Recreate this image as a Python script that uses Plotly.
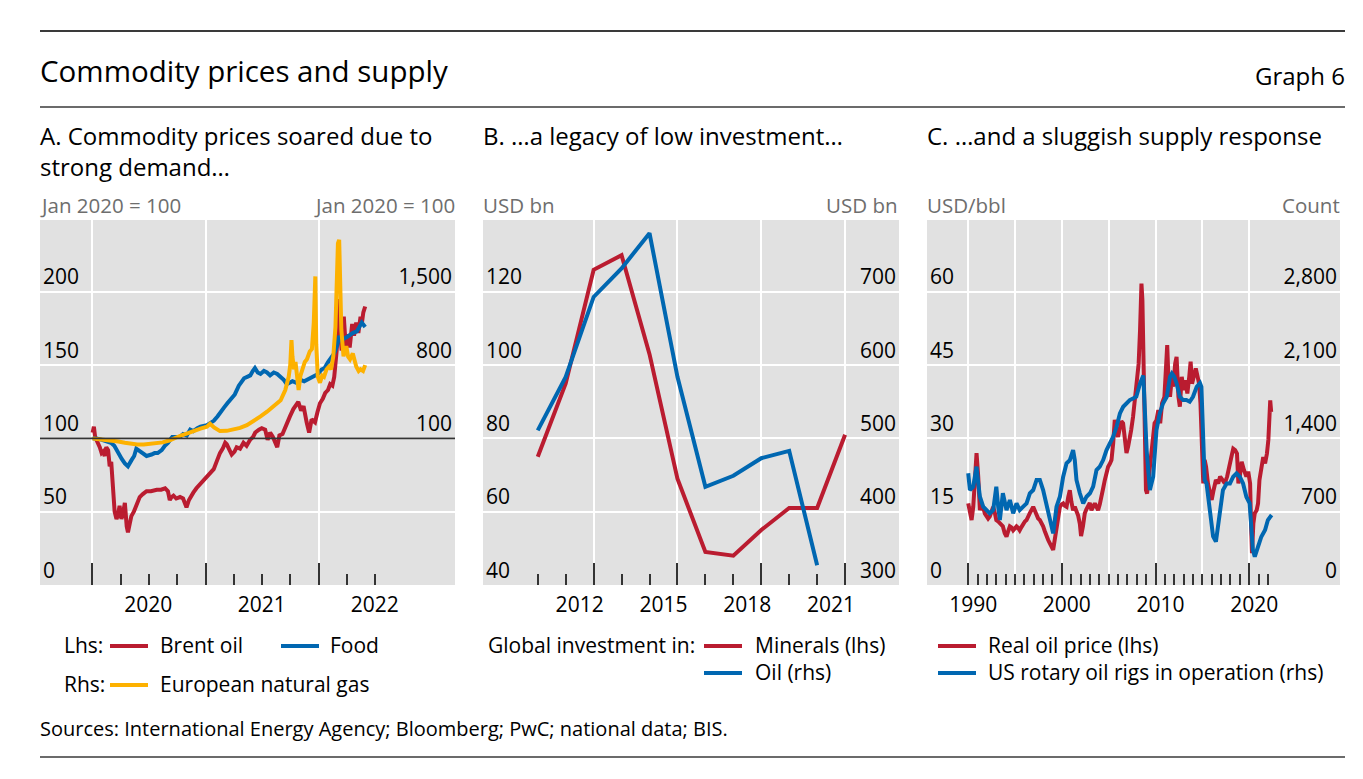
import plotly.graph_objects as go

# ---------------- DATA ----------------
# Panel A: index, Jan 2020 = 100 (Brent, Food on lhs; European gas on rhs)
brent_pts = [
    ("2020-01-02", 104), ("2020-01-06", 108), ("2020-01-10", 101), ("2020-01-20", 97), ("2020-01-25", 94),
    ("2020-01-31", 90), ("2020-02-05", 91), ("2020-02-10", 88), ("2020-02-15", 94), ("2020-02-21", 92),
    ("2020-02-26", 81), ("2020-03-02", 84), ("2020-03-08", 58), ("2020-03-13", 50), ("2020-03-19", 45),
    ("2020-03-24", 48), ("2020-03-29", 54), ("2020-04-04", 45), ("2020-04-10", 50), ("2020-04-15", 56),
    ("2020-04-21", 40), ("2020-04-25", 36), ("2020-05-01", 42), ("2020-05-06", 47), ("2020-05-14", 50),
    ("2020-05-22", 54), ("2020-06-02", 60), ("2020-06-12", 62), ("2020-06-24", 64), ("2020-07-08", 64),
    ("2020-07-27", 65), ("2020-08-10", 65), ("2020-08-23", 66), ("2020-09-01", 64), ("2020-09-07", 58),
    ("2020-09-13", 60), ("2020-09-19", 61), ("2020-09-28", 59), ("2020-10-10", 60), ("2020-10-20", 59),
    ("2020-10-31", 53), ("2020-11-08", 58), ("2020-11-15", 61), ("2020-11-22", 63), ("2020-12-02", 66),
    ("2020-12-14", 69), ("2020-12-24", 71), ("2021-01-05", 74), ("2021-01-15", 77), ("2021-01-27", 79),
    ("2021-02-05", 84), ("2021-02-16", 90), ("2021-02-25", 93), ("2021-03-05", 97), ("2021-03-10", 96),
    ("2021-03-18", 92), ("2021-03-26", 89), ("2021-04-04", 91), ("2021-04-11", 94), ("2021-04-22", 93),
    ("2021-05-03", 97), ("2021-05-13", 95), ("2021-05-24", 99), ("2021-06-03", 101), ("2021-06-10", 104),
    ("2021-06-22", 106), ("2021-07-01", 107), ("2021-07-12", 106), ("2021-07-20", 99), ("2021-07-28", 104),
    ("2021-08-06", 101), ("2021-08-20", 94), ("2021-08-27", 102), ("2021-09-06", 103), ("2021-09-20", 111),
    ("2021-09-30", 115), ("2021-10-11", 120), ("2021-10-20", 123), ("2021-10-27", 125), ("2021-11-05", 119),
    ("2021-11-13", 122), ("2021-11-23", 111), ("2021-12-01", 104), ("2021-12-09", 113), ("2021-12-20", 111),
    ("2021-12-28", 118), ("2022-01-05", 124), ("2022-01-14", 127), ("2022-01-22", 131), ("2022-01-31", 133),
    ("2022-02-07", 137), ("2022-02-14", 136), ("2022-02-20", 142), ("2022-02-28", 160), ("2022-03-03", 175),
    ("2022-03-08", 195), ("2022-03-11", 172), ("2022-03-16", 160), ("2022-03-23", 183), ("2022-03-29", 163),
    ("2022-04-05", 171), ("2022-04-11", 162), ("2022-04-19", 178), ("2022-04-25", 170), ("2022-05-02", 179),
    ("2022-05-09", 172), ("2022-05-16", 183), ("2022-05-20", 178), ("2022-05-25", 186), ("2022-05-31", 190),
]
food_pts = [
    ("2020-01-02", 100), ("2020-01-15", 100), ("2020-02-01", 99), ("2020-02-15", 98), ("2020-03-01", 97),
    ("2020-03-12", 95), ("2020-03-22", 91), ("2020-04-05", 86), ("2020-04-15", 83), ("2020-04-25", 81),
    ("2020-05-06", 85), ("2020-05-15", 88), ("2020-05-22", 93), ("2020-06-05", 91), ("2020-06-15", 89),
    ("2020-06-24", 88), ("2020-07-10", 89), ("2020-07-20", 90), ("2020-07-30", 90), ("2020-08-12", 92),
    ("2020-08-22", 95), ("2020-09-01", 97), ("2020-09-15", 101), ("2020-09-28", 101), ("2020-10-10", 101),
    ("2020-10-20", 103), ("2020-11-01", 102), ("2020-11-12", 106), ("2020-11-22", 105), ("2020-12-05", 107),
    ("2020-12-15", 108), ("2021-01-05", 109), ("2021-01-18", 111), ("2021-01-27", 112), ("2021-02-08", 115),
    ("2021-02-20", 119), ("2021-03-01", 121), ("2021-03-12", 124), ("2021-03-25", 127), ("2021-04-05", 130),
    ("2021-04-18", 136), ("2021-04-28", 139), ("2021-05-05", 141), ("2021-05-15", 142), ("2021-05-25", 143),
    ("2021-06-02", 146), ("2021-06-09", 148), ("2021-06-18", 145), ("2021-06-27", 144), ("2021-07-08", 146),
    ("2021-07-18", 145), ("2021-07-28", 143), ("2021-08-09", 145), ("2021-08-20", 144), ("2021-08-31", 142),
    ("2021-09-10", 140), ("2021-09-20", 137), ("2021-09-28", 138), ("2021-10-08", 139), ("2021-10-20", 138),
    ("2021-11-03", 140), ("2021-11-15", 139), ("2021-11-25", 140), ("2021-12-06", 141), ("2021-12-16", 142),
    ("2021-12-30", 144), ("2022-01-10", 147), ("2022-01-20", 148), ("2022-01-31", 152), ("2022-02-10", 155),
    ("2022-02-20", 158), ("2022-03-01", 163), ("2022-03-08", 170), ("2022-03-15", 166), ("2022-03-22", 168),
    ("2022-04-01", 169), ("2022-04-12", 171), ("2022-04-22", 172), ("2022-05-04", 173), ("2022-05-12", 176),
    ("2022-05-20", 179), ("2022-05-31", 176),
]
gas_pts = [
    ("2020-01-02", 100), ("2020-01-20", 95), ("2020-02-15", 88), ("2020-03-05", 82), ("2020-03-25", 70),
    ("2020-04-15", 58), ("2020-05-06", 48), ("2020-05-25", 41), ("2020-06-15", 42), ("2020-07-05", 48),
    ("2020-07-27", 58), ("2020-08-15", 62), ("2020-09-05", 80), ("2020-09-25", 107), ("2020-10-15", 130),
    ("2020-11-05", 150), ("2020-11-25", 175), ("2020-12-15", 194), ("2021-01-05", 212), ("2021-01-15", 240),
    ("2021-01-28", 205), ("2021-02-16", 170), ("2021-03-10", 172), ("2021-04-01", 185), ("2021-04-22", 200),
    ("2021-05-14", 226), ("2021-06-05", 265), ("2021-06-27", 310), ("2021-07-18", 355), ("2021-08-09", 408),
    ("2021-08-31", 464), ("2021-09-15", 562), ("2021-09-26", 688), ("2021-10-01", 800), ("2021-10-05", 1038),
    ("2021-10-08", 884), ("2021-10-13", 760), ("2021-10-18", 830), ("2021-10-28", 562), ("2021-11-03", 700),
    ("2021-11-09", 758), ("2021-11-17", 830), ("2021-11-24", 856), ("2021-12-03", 930), ("2021-12-10", 954),
    ("2021-12-16", 1206), ("2021-12-21", 1647), ("2021-12-24", 1000), ("2021-12-29", 688), ("2022-01-05", 632),
    ("2022-01-12", 700), ("2022-01-18", 688), ("2022-01-26", 758), ("2022-02-03", 786), ("2022-02-10", 760),
    ("2022-02-17", 884), ("2022-02-24", 1164), ("2022-02-28", 1514), ("2022-03-04", 1962), ("2022-03-08", 1997),
    ("2022-03-10", 1682), ("2022-03-15", 1136), ("2022-03-22", 884), ("2022-03-31", 982), ("2022-04-06", 880),
    ("2022-04-12", 856), ("2022-04-21", 912), ("2022-05-02", 786), ("2022-05-10", 744), ("2022-05-16", 760),
    ("2022-05-24", 745), ("2022-05-31", 800),
]
brent_dates, brent = zip(*brent_pts)
food_dates, food = zip(*food_pts)
gas_dates, gas = zip(*gas_pts)

# Panel B: global investment, USD bn
inv_years = [2010, 2011, 2012, 2013, 2014, 2015, 2016, 2017, 2018, 2019, 2020, 2021]
minerals = [75, 95, 126, 130, 103, 69, 49, 48, 55, 61, 61, 81]
oil_years = [2010, 2011, 2012, 2013, 2014, 2015, 2016, 2017, 2018, 2019, 2020]
oil_inv = [511, 584, 693, 732, 780, 584, 434, 449, 473, 483, 327]

# Panel C: real oil price (USD/bbl, lhs) and US rotary oil rigs (count, rhs)
oilp_pts = [
    (1990.0, 16.7), (1990.18, 15.0), (1990.36, 13.3), (1990.54, 16.0), (1990.72, 24.0), (1990.89, 27.0),
    (1991.07, 22.2), (1991.25, 15.3), (1991.42, 16.5), (1991.6, 15.9), (1991.78, 14.6), (1991.96, 14.0),
    (1992.13, 13.6), (1992.3, 14.0), (1992.5, 15.0), (1992.67, 16.0), (1992.85, 14.7), (1993.0, 13.3),
    (1993.2, 13.0), (1993.38, 12.6), (1993.55, 12.3), (1993.7, 12.0), (1993.9, 10.6), (1994.09, 9.9),
    (1994.27, 11.0), (1994.45, 12.0), (1994.62, 11.8), (1994.8, 11.2), (1994.98, 11.6), (1995.16, 12.0),
    (1995.33, 11.7), (1995.5, 11.2), (1995.7, 11.9), (1995.87, 12.6), (1996.05, 13.0), (1996.23, 13.3),
    (1996.4, 14.2), (1996.58, 14.7), (1996.75, 15.3), (1996.94, 16.0), (1997.12, 15.2), (1997.3, 14.0),
    (1997.47, 13.6), (1997.65, 13.3), (1997.82, 12.8), (1998.0, 12.0), (1998.18, 11.0), (1998.36, 9.9),
    (1998.54, 9.2), (1998.72, 8.5), (1998.9, 7.8), (1999.07, 7.2), (1999.25, 9.4), (1999.43, 12.0),
    (1999.6, 14.0), (1999.79, 16.0), (1999.96, 16.5), (2000.14, 16.7), (2000.32, 16.2), (2000.5, 16.0),
    (2000.68, 18.0), (2000.85, 19.4), (2001.02, 17.0), (2001.2, 15.3), (2001.38, 16.0), (2001.56, 15.3),
    (2001.74, 14.2), (2001.92, 12.5), (2002.05, 10.0), (2002.25, 12.0), (2002.45, 14.7), (2002.62, 15.5),
    (2002.8, 16.0), (2002.98, 16.8), (2003.16, 15.3), (2003.34, 16.2), (2003.52, 16.7), (2003.7, 16.0),
    (2003.87, 15.3), (2004.05, 16.5), (2004.23, 18.7), (2004.41, 19.8), (2004.59, 21.5), (2004.77, 23.5),
    (2004.94, 24.2), (2005.12, 24.8), (2005.3, 25.6), (2005.48, 29.0), (2005.65, 33.8), (2005.82, 31.5),
    (2006.0, 30.3), (2006.18, 32.0), (2006.36, 33.5), (2006.54, 33.1), (2006.72, 29.5), (2006.9, 27.0),
    (2007.07, 28.3), (2007.25, 30.0), (2007.4, 31.7), (2007.6, 34.4), (2007.8, 38.0), (2008.0, 42.6),
    (2008.2, 45.3), (2008.35, 52.2), (2008.5, 61.7), (2008.6, 58.3), (2008.72, 42.6), (2008.85, 27.6),
    (2008.98, 19.4), (2009.1, 18.7), (2009.3, 22.2), (2009.5, 27.6), (2009.7, 31.0), (2009.9, 33.1),
    (2010.1, 33.7), (2010.3, 35.8), (2010.5, 33.1), (2010.7, 37.2), (2010.95, 38.5), (2011.1, 42.6),
    (2011.25, 49.1), (2011.4, 41.2), (2011.55, 38.5), (2011.75, 42.6), (2011.9, 40.6), (2012.1, 45.3),
    (2012.25, 46.7), (2012.45, 38.5), (2012.6, 36.5), (2012.8, 42.6), (2013.0, 39.9), (2013.2, 41.9),
    (2013.4, 39.2), (2013.6, 42.6), (2013.75, 45.7), (2013.9, 41.2), (2014.1, 42.6), (2014.3, 44.3),
    (2014.5, 42.6), (2014.65, 41.2), (2014.8, 37.2), (2014.95, 29.0), (2015.1, 20.8), (2015.25, 25.6),
    (2015.4, 24.2), (2015.6, 20.8), (2015.8, 19.4), (2016.0, 17.4), (2016.2, 19.4), (2016.45, 21.5),
    (2016.7, 20.8), (2016.9, 22.2), (2017.15, 21.5), (2017.4, 20.8), (2017.65, 22.2), (2017.9, 24.9),
    (2018.1, 26.2), (2018.3, 27.9), (2018.5, 27.6), (2018.7, 26.9), (2018.85, 20.8), (2019.0, 22.2),
    (2019.2, 25.2), (2019.45, 23.5), (2019.7, 22.2), (2019.9, 23.2), (2020.1, 20.8), (2020.2, 12.6),
    (2020.3, 6.5), (2020.45, 12.6), (2020.6, 14.7), (2020.8, 15.3), (2020.95, 16.7), (2021.1, 21.5),
    (2021.3, 23.5), (2021.5, 26.2), (2021.7, 24.9), (2021.9, 26.9), (2022.05, 29.7), (2022.15, 33.1),
    (2022.25, 37.8), (2022.35, 35.4),
]
rigs_pts = [
    (1990.0, 1067), (1990.18, 907), (1990.54, 939), (1990.89, 1130), (1991.07, 974), (1991.25, 843),
    (1991.6, 748), (1991.96, 716), (1992.3, 684), (1992.67, 716), (1993.0, 939), (1993.2, 750),
    (1993.38, 620), (1993.7, 876), (1994.09, 716), (1994.45, 811), (1994.8, 684), (1995.16, 780),
    (1995.5, 716), (1995.87, 748), (1996.23, 780), (1996.58, 876), (1996.94, 907), (1997.3, 1003),
    (1997.65, 1003), (1998.0, 907), (1998.36, 780), (1998.72, 652), (1999.07, 493), (1999.43, 748),
    (1999.79, 843), (2000.14, 1034), (2000.5, 1162), (2000.85, 1193), (2001.2, 1289), (2001.38, 1193),
    (2001.56, 1003), (2001.92, 876), (2002.28, 780), (2002.63, 843), (2003.0, 876), (2003.34, 939),
    (2003.7, 1098), (2004.05, 1130), (2004.41, 1193), (2004.77, 1289), (2005.12, 1352), (2005.48, 1416),
    (2005.84, 1511), (2006.2, 1639), (2006.55, 1702), (2006.9, 1734), (2007.25, 1766), (2007.6, 1782),
    (2007.95, 1798), (2008.35, 1925), (2008.7, 2000), (2009.05, 1289), (2009.4, 907), (2009.75, 1034),
    (2010.1, 1480), (2010.45, 1639), (2010.8, 1734), (2011.2, 1798), (2011.55, 1989), (2011.75, 2020),
    (2012.0, 1989), (2012.25, 1925), (2012.6, 1798), (2012.95, 1766), (2013.3, 1766), (2013.65, 1750),
    (2014.0, 1798), (2014.4, 1893), (2014.75, 1929), (2014.9, 1893), (2015.1, 1225), (2015.25, 1002),
    (2015.45, 970), (2015.8, 716), (2016.15, 464), (2016.45, 414), (2016.85, 684), (2017.2, 907),
    (2017.6, 970), (2017.95, 970), (2018.3, 1034), (2018.65, 1066), (2019.0, 1034), (2019.35, 970),
    (2019.7, 843), (2020.05, 780), (2020.4, 334), (2020.6, 270), (2020.95, 366), (2021.3, 461),
    (2021.7, 525), (2022.0, 620), (2022.4, 668),
]
oilp_years, oilp = zip(*oilp_pts)
rig_years, rigs = zip(*rigs_pts)

# Tick labels
a_tickvals = ["2020-01-01", "2021-01-01", "2022-01-01"]
a_ticktext = ["2020", "2021", "2022"]
a_minor = ["2020-01-01", "2020-04-01", "2020-07-01", "2020-10-01", "2021-01-01", "2021-04-01",
           "2021-07-01", "2021-10-01", "2022-01-01", "2022-04-01", "2022-07-01"]
b_tickvals = [2012, 2015, 2018, 2021]
b_ticktext = ["2012", "2015", "2018", "2021"]
c_tickvals = [1990, 1995, 2000, 2005, 2010, 2015, 2020]
c_ticktext = ["1990", "", "2000", "", "2010", "", "2020"]
c_minor = list(range(1990, 2023))

# ---------------- STYLE ----------------
RED = "#BA1C30"
BLUE = "#0067B1"
ORANGE = "#FDB100"
BG = "#E1E1E1"
FONT = "Open Sans"
OFF = 8                       # page body margin in the browser
W, H = 1363 - 2 * OFF, 779 - 2 * OFF


def fx(p):
    return (p - OFF) / W


def fy(p):
    return 1 - (p - OFF) / H


TOP, BOT = 220, 585
ydom = [fy(BOT), fy(TOP)]
tickfont = dict(family=FONT, size=21, color="black")
LW = 4

fig = go.Figure()
# Panel A
fig.add_trace(go.Scatter(x=list(brent_dates), y=list(brent), mode="lines", line=dict(color=RED, width=LW),
                         xaxis="x", yaxis="y", name="Brent oil"))
fig.add_trace(go.Scatter(x=list(gas_dates), y=list(gas), mode="lines", line=dict(color=ORANGE, width=LW),
                         xaxis="x", yaxis="y2", name="European natural gas"))
fig.add_trace(go.Scatter(x=list(food_dates), y=list(food), mode="lines", line=dict(color=BLUE, width=LW),
                         xaxis="x", yaxis="y", name="Food"))
# Panel B
fig.add_trace(go.Scatter(x=inv_years, y=minerals, mode="lines", line=dict(color=RED, width=LW),
                         xaxis="x2", yaxis="y3", name="Minerals (lhs)"))
fig.add_trace(go.Scatter(x=oil_years, y=oil_inv, mode="lines", line=dict(color=BLUE, width=LW),
                         xaxis="x2", yaxis="y4", name="Oil (rhs)"))
# Panel C
fig.add_trace(go.Scatter(x=list(oilp_years), y=list(oilp), mode="lines", line=dict(color=RED, width=LW),
                         xaxis="x3", yaxis="y5", name="Real oil price (lhs)"))
fig.add_trace(go.Scatter(x=list(rig_years), y=list(rigs), mode="lines", line=dict(color=BLUE, width=LW),
                         xaxis="x3", yaxis="y6", name="US rotary oil rigs in operation (rhs)"))


def xax(domain, anchor, **kw):
    d = dict(domain=[fx(domain[0]), fx(domain[1])], anchor=anchor, showline=False, zeroline=False,
             ticks="inside", ticklen=22, tickwidth=1.5, tickcolor="#333333", showgrid=True,
             gridcolor="white", gridwidth=2, tickfont=tickfont, tickmode="array", fixedrange=True,
             ticklabelstandoff=5)
    d.update(kw)
    return d


def yleft(anchor, rng, vals, **kw):
    d = dict(domain=ydom, anchor=anchor, range=rng, tickmode="array", tickvals=vals, showline=False,
             zeroline=False, ticks="", showgrid=True, gridcolor="white", gridwidth=2,
             ticklabelposition="inside top", tickfont=tickfont, fixedrange=True)
    d.update(kw)
    return d


def yright(anchor, over, rng, vals, **kw):
    d = dict(anchor=anchor, overlaying=over, side="right", range=rng, tickmode="array", tickvals=vals,
             showline=False, zeroline=False, ticks="", showgrid=False, ticklabelposition="inside top",
             tickfont=tickfont, fixedrange=True, tickformat=",d")
    d.update(kw)
    return d


minor_style = dict(ticks="inside", ticklen=11, tickwidth=1.5, tickcolor="#333333", showgrid=False,
                   tickmode="array")

fig.update_layout(
    width=W, height=H, margin=dict(l=0, r=0, t=0, b=0),
    paper_bgcolor="white", plot_bgcolor=BG, showlegend=False,
    font=dict(family=FONT, color="black"),
    xaxis=xax((40, 455), "y", type="date", range=["2019-07-16", "2023-03-17"],
              tickvals=a_tickvals, ticktext=a_ticktext, ticklabelshift=56,
              minor=dict(tickvals=a_minor, **minor_style)),
    yaxis=yleft("x", [0, 249], [0, 50, 100, 150, 200]),
    yaxis2=yright("x", "y", [-1300, 2186], [100, 800, 1500]),
    xaxis2=xax((483, 899), "y3", range=[2008.04, 2022.93], tickvals=b_tickvals, ticktext=b_ticktext,
               ticklabelshift=-14, minor=dict(tickvals=inv_years, **minor_style)),
    yaxis3=yleft("x2", [40, 139.6], [40, 60, 80, 100, 120]),
    yaxis4=yright("x2", "y3", [300, 798], [300, 400, 500, 600, 700]),
    xaxis3=xax((927, 1340), "y5", range=[1985.6, 2029.7], tickvals=c_tickvals, ticktext=c_ticktext,
               ticklabelshift=5, minor=dict(tickvals=c_minor, **minor_style)),
    yaxis5=yleft("x3", [0, 74.7], [0, 15, 30, 45, 60]),
    yaxis6=yright("x3", "y5", [0, 3486], [0, 700, 1400, 2100, 2800]),
)

shapes = []
# horizontal rules
for yy, wdt in [(31, 2.2), (107, 1.6), (757, 1.6)]:
    shapes.append(dict(type="line", xref="paper", yref="paper", x0=fx(40), x1=fx(1345), y0=fy(yy), y1=fy(yy),
                       line=dict(color="#3a3a3a", width=wdt)))
# reference line at 100 in panel A
shapes.append(dict(type="line", xref="x domain", x0=0, x1=1, yref="y", y0=100, y1=100,
                   line=dict(color="#333333", width=1.6), layer="above"))

annotations = []


def txt(x, y, s, size=20, color="black", xanchor="left"):
    annotations.append(dict(x=fx(x), y=fy(y), xref="paper", yref="paper", text=s, showarrow=False,
                            xanchor=xanchor, yanchor="middle", align="left",
                            font=dict(family=FONT, size=size, color=color)))


def legline(x0, y, color):
    shapes.append(dict(type="line", xref="paper", yref="paper", x0=fx(x0), x1=fx(x0 + 38), y0=fy(y), y1=fy(y),
                       line=dict(color=color, width=4)))


txt(38, 71, "Commodity prices and supply", size=29.5)
txt(1347, 75, "Graph 6", size=24, xanchor="right")
txt(38, 151, "A. Commodity prices soared due to<br>strong demand…", size=24)
txt(481, 136, "B. …a legacy of low investment…", size=24)
txt(925, 136, "C. …and a sluggish supply response", size=24)
GRAY = "#6E6E6E"
txt(38, 205, "Jan 2020 = 100", size=20.5, color=GRAY)
txt(457, 205, "Jan 2020 = 100", size=20.5, color=GRAY, xanchor="right")
txt(481, 205, "USD bn", size=20.5, color=GRAY)
txt(900, 205, "USD bn", size=20.5, color=GRAY, xanchor="right")
txt(925, 205, "USD/bbl", size=20.5, color=GRAY)
txt(1342, 205, "Count", size=20.5, color=GRAY, xanchor="right")

# legends
LF = 21
txt(62, 645, "Lhs:", size=LF)
legline(110, 646, RED)
txt(158, 645, "Brent oil", size=LF)
legline(281, 646, BLUE)
txt(328, 645, "Food", size=LF)
txt(62, 684, "Rhs:", size=LF)
legline(110, 685, ORANGE)
txt(158, 684, "European natural gas", size=LF)

txt(486, 645, "Global investment in:", size=LF)
legline(704, 646, RED)
txt(753, 645, "Minerals (lhs)", size=LF)
legline(704, 673, BLUE)
txt(753, 672, "Oil (rhs)", size=LF)

legline(938, 646, RED)
txt(986, 645, "Real oil price (lhs)", size=LF)
legline(938, 673, BLUE)
txt(986, 672, "US rotary oil rigs in operation (rhs)", size=LF)

txt(38, 728, "Sources: International Energy Agency; Bloomberg; PwC; national data; BIS.", size=20)

fig.update_layout(shapes=shapes, annotations=annotations)
fig.write_html("out.html")
